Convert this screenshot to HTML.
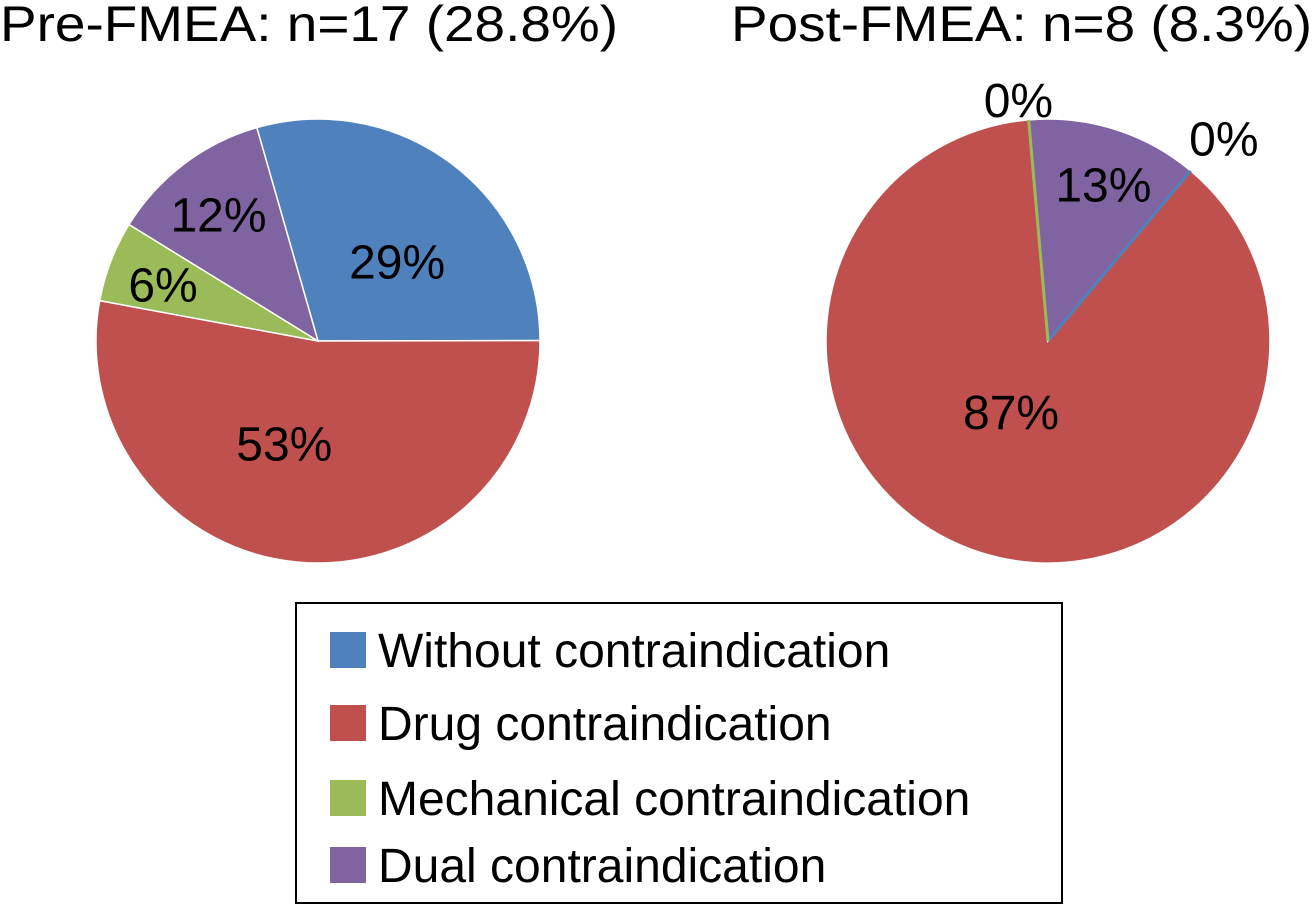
<!DOCTYPE html>
<html><head><meta charset="utf-8"><style>
body{margin:0;background:#fff;width:1313px;height:912px;overflow:hidden;font-family:"Liberation Sans",sans-serif}
svg{display:block}
text{font-family:"Liberation Sans",sans-serif;fill:#000}
</style></head><body>
<svg id="chart" width="1313" height="912">
<text x="0" y="41" font-size="50" textLength="618" lengthAdjust="spacingAndGlyphs">Pre-FMEA: n=17 (28.8%)</text>
<text x="731" y="41" font-size="50" textLength="581" lengthAdjust="spacingAndGlyphs">Post-FMEA: n=8 (8.3%)</text>
<g id="pies"></g>
<g id="lines"></g>
<g id="labels"></g>
<rect x="296" y="603" width="766" height="300" fill="#fff" stroke="#000" stroke-width="2"/>
<g id="legend"></g>
</svg>
<script>
const categories=["Without contraindication","Drug contraindication","Mechanical contraindication","Dual contraindication"];
const colors=["#4F81BD","#C0504D","#9BBB59","#8064A2"];
const preValues=[5,9,1,2];
const postValues=[0,7,0,1];
const preLabels=["29%","53%","6%","12%"];
const postLabels=["0%","87%","0%","13%"];
const NS="http://www.w3.org/2000/svg";
const pies=document.getElementById('pies');
const lines=document.getElementById('lines');
const labelsG=document.getElementById('labels');
function pt(cx,cy,r,deg){const a=(deg-90)*Math.PI/180;return [cx+r*Math.cos(a),cy+r*Math.sin(a)];}
function drawPie(vals,labels,cx,cy,r,start,name,labelPos){
  const total=vals.reduce((a,b)=>a+b,0);
  let ang=start;
  vals.forEach((v,i)=>{
    const sweep=v/total*360;
    const [x1,y1]=pt(cx,cy,r,ang),[x2,y2]=pt(cx,cy,r,ang+sweep);
    const p=document.createElementNS(NS,'path');
    if(sweep>0){
      p.setAttribute('d',`M${cx},${cy}L${x1},${y1}A${r},${r} 0 ${sweep>180?1:0} 1 ${x2},${y2}Z`);
      p.setAttribute('fill',colors[i]);
      p.setAttribute('stroke','#fff');p.setAttribute('stroke-width','1.5');
      pies.appendChild(p);
    } else {
      p.setAttribute('d',`M${cx},${cy}L${x1},${y1}`);
      p.setAttribute('stroke',colors[i]);p.setAttribute('stroke-width','3');
      lines.appendChild(p);
    }
    
    
    const mid=ang+sweep/2;
    const lp=labelPos[i];
    const [lx,ly]=pt(cx,cy,lp[0],mid+lp[1]);
    const t=document.createElementNS(NS,'text');
    t.setAttribute('x',lx);t.setAttribute('y',ly+17);
    t.setAttribute('font-size','48');t.setAttribute('text-anchor','middle');
    t.textContent=labels[i];
    
    
    labelsG.appendChild(t);
    ang+=sweep;
  });
}
drawPie(preValues,preLabels,318,341,222,-16,'pre-pie',[[112,8],[108,13],[165,-1],[161,-1]]);
drawPie(postValues,postLabels,1048,341,222,40,'post-pie',[[268,1],[80,10],[243,-2],[166,2]]);
const lg=document.getElementById('legend');
const rowY=[650,723,798,865];
categories.forEach((c,i)=>{
  const r=document.createElementNS(NS,'rect');
  r.setAttribute('x',330);r.setAttribute('y',rowY[i]-18);r.setAttribute('width',36);r.setAttribute('height',36);
  r.setAttribute('fill',colors[i]);
  
  
  lg.appendChild(r);
  const t=document.createElementNS(NS,'text');
  t.setAttribute('x',378);t.setAttribute('y',rowY[i]+17);t.setAttribute('font-size','48');
  t.textContent=c;
  
  
  lg.appendChild(t);
});
</script>
</body></html>
